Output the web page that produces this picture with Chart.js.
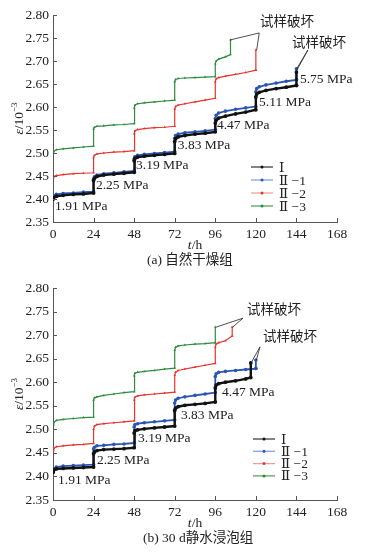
<!DOCTYPE html>
<html>
<head>
<meta charset="utf-8">
<script src="https://cdn.jsdelivr.net/npm/chart.js@4.4.0/dist/chart.umd.min.js"></script>
<style>
body { margin: 0; background: #fff; width: 375px; height: 555px; overflow: hidden; position: relative; }
canvas { position: absolute; left: 0; }
#ca { top: 0; }
#cb { top: 275px; }
</style>
</head>
<body>
<canvas id="ca" width="375" height="275"></canvas>
<canvas id="cb" width="375" height="280"></canvas>
<script>
// time grid (h) shared by all curves; each load step lasts 24 h, step hours appear twice (before / after loading)
var hours = [0, 0.5, 2, 6, 12, 18, 24,
             24, 24.5, 26, 30, 36, 42, 48,
             48, 48.5, 50, 54, 60, 66, 72,
             72, 72.5, 74, 78, 84, 90, 96,
             96, 96.5, 98, 102, 108, 114, 120,
             120, 120.5, 122, 126, 132, 138, 144];

var seriesNames = ['Ⅰ', 'Ⅱ −1', 'Ⅱ −2', 'Ⅱ −3'];
var stressA = ['1.91 MPa', '2.25 MPa', '3.19 MPa', '3.83 MPa', '4.47 MPa', '5.11 MPa', '5.75 MPa'];
var stressB = ['1.91 MPa', '2.25 MPa', '3.19 MPa', '3.83 MPa', '4.47 MPa'];

// (a) 自然干燥组, strain in 10^-3
var epsA_I = [2.400, 2.403, 2.406, 2.408, 2.410, 2.411, 2.413,
              2.440, 2.445, 2.449, 2.452, 2.454, 2.456, 2.458,
              2.483, 2.488, 2.491, 2.493, 2.495, 2.497, 2.499,
              2.525, 2.531, 2.535, 2.538, 2.541, 2.543, 2.546,
              2.565, 2.571, 2.576, 2.580, 2.585, 2.589, 2.594,
              2.622, 2.628, 2.632, 2.636, 2.640, 2.643, 2.647];
var epsA_II1 = [2.404, 2.407, 2.410, 2.412, 2.413, 2.415, 2.416,
                2.443, 2.448, 2.452, 2.455, 2.457, 2.459, 2.461,
                2.487, 2.492, 2.495, 2.497, 2.499, 2.501, 2.503,
                2.532, 2.538, 2.541, 2.544, 2.546, 2.548, 2.551,
                2.575, 2.582, 2.587, 2.591, 2.595, 2.598, 2.601,
                2.633, 2.640, 2.644, 2.648, 2.652, 2.656, 2.659];
var epsA_II2 = [2.446, 2.449, 2.451, 2.453, 2.455, 2.456, 2.457,
                2.490, 2.495, 2.498, 2.500, 2.502, 2.503, 2.505,
                2.542, 2.548, 2.551, 2.553, 2.555, 2.556, 2.558,
                2.595, 2.601, 2.604, 2.607, 2.611, 2.615, 2.619,
                2.655, 2.661, 2.664, 2.667, 2.671, 2.675, 2.680,
                null, null, null, null, null, null, null];
var epsA_II3 = [2.500, 2.504, 2.507, 2.509, 2.511, 2.513, 2.515,
                2.552, 2.556, 2.558, 2.559, 2.561, 2.562, 2.564,
                2.598, 2.604, 2.607, 2.609, 2.611, 2.613, 2.615,
                2.655, 2.660, 2.662, 2.663, 2.664, 2.665, 2.666,
                2.694, 2.700, 2.704, 2.709, null, null, null,
                null, null, null, null, null, null, null];
// failure: hour, strain just before, strain at break (order I, II-1, II-2, II-3)
var failHourA = [144, 144, 120, 105];
var failFromA = [2.647, 2.659, 2.680, 2.714];
var failToA = [2.676, 2.683, 2.724, 2.746];

// (b) 30 d静水浸泡组
var epsB_I = [2.409, 2.414, 2.416, 2.417, 2.418, 2.419, 2.420,
              2.448, 2.452, 2.455, 2.457, 2.458, 2.459, 2.461,
              2.492, 2.497, 2.499, 2.501, 2.503, 2.505, 2.507,
              2.540, 2.545, 2.548, 2.551, 2.553, 2.555, 2.558,
              2.588, 2.594, 2.597, 2.600, 2.603, 2.607, null,
              null, null, null, null, null, null, null];
var epsB_II1 = [2.410, 2.417, 2.420, 2.422, 2.423, 2.424, 2.425,
                2.458, 2.462, 2.465, 2.466, 2.468, 2.469, 2.471,
                2.505, 2.510, 2.512, 2.514, 2.516, 2.518, 2.520,
                2.556, 2.562, 2.566, 2.569, 2.572, 2.575, 2.578,
                2.612, 2.618, 2.621, 2.623, 2.625, 2.627, 2.629,
                null, null, null, null, null, null, null];
var epsB_II2 = [2.455, 2.460, 2.463, 2.465, 2.467, 2.468, 2.470,
                2.500, 2.507, 2.510, 2.512, 2.514, 2.516, 2.518,
                2.562, 2.568, 2.571, 2.573, 2.575, 2.577, 2.579,
                2.615, 2.621, 2.625, 2.628, 2.632, 2.636, 2.640,
                2.675, 2.681, 2.684, 2.688, null, null, null,
                null, null, null, null, null, null, null];
var epsB_II3 = [2.508, 2.515, 2.519, 2.521, 2.523, 2.525, 2.526,
                2.562, 2.567, 2.569, 2.572, 2.575, 2.578, 2.580,
                2.614, 2.619, 2.621, 2.623, 2.625, 2.628, 2.630,
                2.668, 2.674, 2.677, 2.679, 2.681, 2.682, 2.684,
                null, null, null, null, null, null, null,
                null, null, null, null, null, null, null];
var failHourB = [117, 120, 106, 96];
var failFromB = [2.610, 2.629, 2.698, 2.684];
var failToB = [2.641, 2.647, 2.717, 2.717];

var colors = ['#111111', '#2b55b5', '#e8332e', '#2e8b3e'];
var legendLine = ['#333333', '#7d9bd8', '#f29a9a', '#4a9a5a'];
var serif = '"Liberation Serif", "DejaVu Serif", "Noto Sans CJK SC", serif';
var fs = 13.5;

function curve(vals, fh, ff, ft) {
    var p = [];
    for (var i = 0; i < hours.length; i++) {
        if (vals[i] !== null && hours[i] <= fh) p.push({x: hours[i], y: vals[i]});
    }
    p.push({x: fh, y: ff});
    p.push({x: fh, y: ft});
    return p;
}

function makeSets(list, fh, ff, ft) {
    return list.map(function(vals, i) {
        return {
            label: seriesNames[i],
            data: curve(vals, fh[i], ff[i], ft[i]),
            borderColor: colors[i],
            backgroundColor: colors[i],
            borderWidth: [2.4, 1.8, 1.2, 1.2][i],
            pointRadius: [1.9, 1.8, 1.5, 1.5][i],
            pointStyle: i < 2 ? 'circle' : 'triangle',
            pointBorderWidth: 0,
            tension: 0,
            fill: false
        };
    });
}

function line(ctx, x1, y1, x2, y2) {
    ctx.beginPath(); ctx.moveTo(x1, y1); ctx.lineTo(x2, y2); ctx.stroke();
}

var decor = {
    id: 'decor',
    afterDraw: function(chart, args, o) {
        var ctx = chart.ctx, xs = chart.scales.x, ys = chart.scales.y, a = chart.chartArea;
        ctx.save();
        // ticks pointing inwards
        ctx.strokeStyle = '#555'; ctx.lineWidth = 1;
        xs.ticks.forEach(function(t) {
            var px = Math.round(xs.getPixelForValue(t.value)) + 0.5;
            line(ctx, px, a.bottom, px, a.bottom - 4);
        });
        ys.ticks.forEach(function(t) {
            var py = Math.round(ys.getPixelForValue(t.value)) + 0.5;
            line(ctx, a.left, py, a.left + 4, py);
        });

        ctx.fillStyle = '#222';
        ctx.textBaseline = 'middle';
        ctx.textAlign = 'left';
        ctx.font = fs + 'px ' + serif;
        o.stress.forEach(function(s, i) {
            ctx.fillText(s, xs.getPixelForValue(o.stressAt[i][0]), ys.getPixelForValue(o.stressAt[i][1]));
        });

        // 试样破坏 notes with leader lines
        ctx.strokeStyle = '#222'; ctx.lineWidth = 0.8;
        o.notes.forEach(function(n) {
            ctx.fillText('试样破坏', xs.getPixelForValue(n.at[0]), ys.getPixelForValue(n.at[1]));
            var ax = xs.getPixelForValue(n.apex[0]), ay = ys.getPixelForValue(n.apex[1]);
            n.ends.forEach(function(e) {
                line(ctx, ax, ay, xs.getPixelForValue(e[0]), ys.getPixelForValue(e[1]));
            });
        });

        // legend
        chart.data.datasets.forEach(function(d, i) {
            var y = o.legend.y + i * o.legend.gap, x = o.legend.x;
            ctx.strokeStyle = legendLine[i]; ctx.lineWidth = 1.2;
            line(ctx, x, y, x + 22, y);
            ctx.fillStyle = colors[i];
            ctx.beginPath(); ctx.arc(x + 11, y, 1.5, 0, Math.PI * 2); ctx.fill();
            ctx.fillStyle = '#222';
            ctx.fillText(d.label, x + 28, y + 1);
        });

        // y title: ε/10^-3
        ctx.save();
        ctx.translate(19, (a.top + a.bottom) / 2);
        ctx.rotate(-Math.PI / 2);
        ctx.font = 'italic ' + fs + 'px ' + serif;
        var w1 = ctx.measureText('ε').width;
        ctx.font = fs + 'px ' + serif;
        var w2 = ctx.measureText('/10').width;
        ctx.font = '9px ' + serif;
        var w3 = ctx.measureText('−3').width;
        var x0 = -(w1 + w2 + w3) / 2;
        ctx.font = 'italic ' + fs + 'px ' + serif;
        ctx.fillText('ε', x0, 0);
        ctx.font = fs + 'px ' + serif;
        ctx.fillText('/10', x0 + w1, 0);
        ctx.font = '9px ' + serif;
        ctx.fillText('−3', x0 + w1 + w2, -4);
        ctx.restore();

        // x title: t/h
        ctx.font = 'italic ' + fs + 'px ' + serif;
        var tw = ctx.measureText('t').width;
        ctx.font = fs + 'px ' + serif;
        var hw = ctx.measureText('/h').width;
        var tx = (a.left + a.right) / 2 - (tw + hw) / 2;
        ctx.font = 'italic ' + fs + 'px ' + serif;
        ctx.fillText('t', tx, a.bottom + 23);
        ctx.font = fs + 'px ' + serif;
        ctx.fillText('/h', tx + tw, a.bottom + 23);

        // caption
        ctx.fillText(o.caption, o.captionX, a.bottom + 38);
        ctx.restore();
    }
};

function makeChart(id, height, top, bottom, sets, deco) {
    return new Chart(document.getElementById(id), {
        type: 'line',
        data: {datasets: sets},
        options: {
            responsive: false,
            animation: false,
            events: [],
            layout: {padding: {top: top, right: 38, left: 0, bottom: 0}},
            plugins: {legend: {display: false}, tooltip: {enabled: false}, decor: deco},
            scales: {
                x: {
                    type: 'linear', min: 0, max: 168,
                    afterFit: function(s) { s.height = height - bottom; },
                    grid: {display: false, drawTicks: false},
                    border: {display: true, color: '#555', width: 1},
                    ticks: {stepSize: 24, padding: 4, color: '#222', font: {family: serif, size: fs}}
                },
                y: {
                    type: 'linear', min: 2.35, max: 2.80,
                    afterFit: function(s) { s.width = 53; },
                    grid: {display: false, drawTicks: false},
                    border: {display: true, color: '#555', width: 1},
                    ticks: {
                        stepSize: 0.05, padding: 4, color: '#222', font: {family: serif, size: fs},
                        callback: function(v) { return v.toFixed(2); }
                    }
                }
            }
        },
        plugins: [decor]
    });
}

makeChart('ca', 275, 15, 222,
    makeSets([epsA_I, epsA_II1, epsA_II2, epsA_II3], failHourA, failFromA, failToA),
    {
        stress: stressA,
        stressAt: [[1.2, 2.383], [25.4, 2.430], [49.1, 2.474], [73.8, 2.517], [97, 2.559], [121.9, 2.609], [146.1, 2.659]],
        notes: [
            {at: [122.4, 2.783], apex: [122, 2.761], ends: [[105, 2.746], [120.5, 2.724]]},
            {at: [141.4, 2.739], apex: [150.8, 2.724], ends: [[144.3, 2.684], [143.8, 2.677]]}
        ],
        legend: {x: 251, y: 167, gap: 13},
        caption: '(a) 自然干燥组', captionX: 147
    });

makeChart('cb', 280, 13, 225,
    makeSets([epsB_I, epsB_II1, epsB_II2, epsB_II3], failHourB, failFromB, failToB),
    {
        stress: stressB,
        stressAt: [[3, 2.392], [26, 2.433], [50.3, 2.480], [75.7, 2.530], [100, 2.579]],
        notes: [
            {at: [114.8, 2.753], apex: [112.4, 2.736], ends: [[96.5, 2.717], [106.3, 2.717]]},
            {at: [124.2, 2.694], apex: [122.4, 2.675], ends: [[117.2, 2.641], [120.3, 2.647]]}
        ],
        legend: {x: 253, y: 164, gap: 12.3},
        caption: '(b) 30 d静水浸泡组', captionX: 143
    });
</script>
</body>
</html>
